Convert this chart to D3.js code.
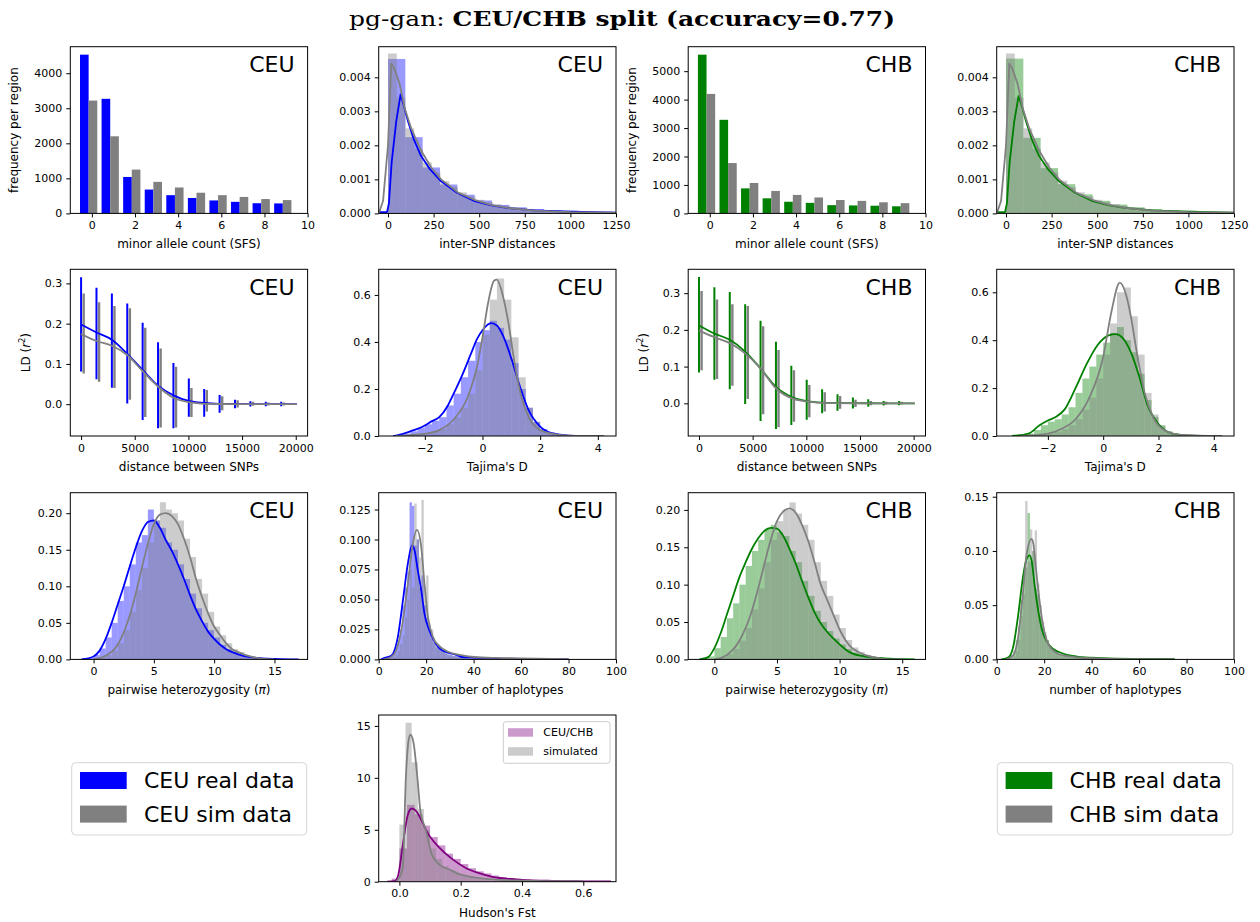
<!DOCTYPE html>
<html lang="en">
<head>
<meta charset="UTF-8">
<title>pg-gan CEU/CHB split</title>
<script src="https://d3js.org/d3.v7.min.js"></script>
<style>
  body { margin: 0; background: #fff; }
  text { font-family: "DejaVu Sans", sans-serif; fill: #000; }
</style>
</head>
<body>
<svg id="fig" width="1260" height="922"></svg>
<script>
// ---------- data ----------
const sfsBins = [0, 1, 2, 3, 4, 5, 6, 7, 8, 9];
const ceuSfsReal = [4530, 3270, 1040, 680, 520, 440, 370, 330, 290, 285];
const ceuSfsSim  = [3220, 2200, 1250, 900, 740, 590, 520, 470, 410, 380];
const chbSfsReal = [5580, 3290, 880, 530, 410, 370, 290, 280, 270, 250];
const chbSfsSim  = [4200, 1770, 1070, 790, 650, 560, 470, 440, 390, 360];

// inter-SNP distances: histograms {start, width, values} and KDE points [x, density]
const ceuDistHistReal = {start: 0, width: 95, values: [0.00454, 0.00224, 0.00135, 0.00085, 0.00055, 0.00038, 0.00025, 0.00018, 0.00013, 0.0001, 0.00008, 0.00006, 0.00005, 0.00003]};
const ceuDistHistSim  = {start: 0, width: 48, values: [0.0047, 0.0034, 0.0025, 0.0019, 0.0015, 0.0012, 0.00095, 0.00078, 0.00062, 0.0005, 0.0004, 0.00033, 0.00027, 0.00022, 0.00018, 0.00015, 0.00012, 0.0001, 0.00008, 0.00007, 0.00006, 0.00005, 0.00004, 0.00003, 0.00003, 0.00002, 0.00002]};
const chbDistHistReal = {start: 0, width: 95, values: [0.00455, 0.00222, 0.00133, 0.00086, 0.00056, 0.00037, 0.00026, 0.00018, 0.00013, 0.0001, 0.00008, 0.00006, 0.00005, 0.00003]};
const chbDistHistSim  = {start: 0, width: 48, values: [0.0047, 0.0034, 0.0025, 0.0019, 0.0015, 0.0012, 0.00096, 0.00077, 0.00062, 0.0005, 0.0004, 0.00033, 0.00027, 0.00022, 0.00018, 0.00015, 0.00012, 0.0001, 0.00008, 0.00007, 0.00006, 0.00005, 0.00004, 0.00003, 0.00003, 0.00002, 0.00002]};
const ceuDistKdeReal = [[-50, 0.00004], [-5, 0.00004], [5, 0.0003], [20, 0.0015], [45, 0.0027], [69, 0.0035], [90, 0.0031], [110, 0.0027], [140, 0.0022], [180, 0.0017], [230, 0.0013], [290, 0.00095], [380, 0.0006], [470, 0.00037], [560, 0.00024], [650, 0.00016], [800, 0.00009], [1000, 0.00005], [1250, 0.00002]];
const ceuDistKdeSim  = [[-50, 0.00002], [-45, 0.00008], [-27, 0.00037], [0, 0.002], [18, 0.0044], [30, 0.0043], [40, 0.00418], [64, 0.0038], [91, 0.0031], [127, 0.0025], [182, 0.00184], [237, 0.00135], [291, 0.001], [382, 0.00062], [473, 0.0004], [564, 0.00025], [655, 0.00016], [800, 0.00008], [1000, 0.00004], [1250, 0.00002]];
const chbDistKdeReal = [[-50, 0.00004], [-5, 0.00004], [5, 0.0003], [20, 0.0015], [45, 0.0027], [69, 0.00345], [90, 0.0031], [110, 0.0027], [140, 0.0022], [180, 0.0017], [230, 0.0013], [290, 0.00095], [380, 0.0006], [470, 0.00037], [560, 0.00024], [650, 0.00016], [800, 0.00009], [1000, 0.00005], [1250, 0.00002]];
const chbDistKdeSim  = [[-50, 0.00002], [-45, 0.00008], [-27, 0.00037], [0, 0.002], [18, 0.0044], [30, 0.0043], [40, 0.00418], [64, 0.0038], [91, 0.0031], [127, 0.0025], [182, 0.00184], [237, 0.00135], [291, 0.001], [382, 0.00062], [473, 0.0004], [564, 0.00025], [655, 0.00016], [800, 0.00008], [1000, 0.00004], [1250, 0.00002]];

// LD decay: bin distances, mean line and error bar ends
const ldX = [0, 1434, 2868, 4302, 5736, 7170, 8604, 10038, 11472, 12906, 14340, 15774, 17208, 18642];
const ldLineX = [0, 1434, 2868, 4302, 5736, 7170, 8604, 10038, 11472, 12906, 14340, 15774, 17208, 18642, 20100];
const ceuLdMeanReal = [0.198, 0.178, 0.16, 0.125, 0.085, 0.046, 0.022, 0.008, 0.003, 0.001, 0.0005, 0.0002, 0.0001, 0, 0];
const ceuLdMeanSim  = [0.174, 0.157, 0.145, 0.122, 0.082, 0.044, 0.016, 0.005, 0.001, 0.0005, 0.0002, 0.0001, 0, 0, 0];
const ceuLdHiReal = [0.315, 0.289, 0.275, 0.25, 0.202, 0.154, 0.102, 0.064, 0.038, 0.023, 0.011, 0.007, 0.006, 0.006];
const ceuLdLoReal = [0.081, 0.062, 0.041, 0.002, -0.039, -0.06, -0.06, -0.031, -0.031, -0.021, -0.01, -0.006, -0.005, -0.005];
const ceuLdHiSim  = [0.275, 0.253, 0.244, 0.238, 0.19, 0.138, 0.093, 0.04, 0.035, 0.02, 0.01, 0.006, 0.004, 0.004];
const ceuLdLoSim  = [0.076, 0.056, 0.04, 0.011, -0.032, -0.058, -0.058, -0.032, -0.018, -0.015, -0.008, -0.004, -0.003, -0.003];
const chbLdMeanReal = [0.212, 0.19, 0.173, 0.141, 0.095, 0.045, 0.018, 0.006, 0.002, 0.001, 0.0005, 0.0002, 0.0001, 0, 0];
const chbLdMeanSim  = [0.198, 0.18, 0.164, 0.136, 0.095, 0.041, 0.014, 0.005, 0.001, 0.0005, 0.0002, 0.0001, 0, 0, 0];
const chbLdHiReal = [0.344, 0.316, 0.303, 0.27, 0.225, 0.168, 0.102, 0.064, 0.038, 0.025, 0.016, 0.011, 0.006, 0.006];
const chbLdLoReal = [0.084, 0.064, 0.038, -0.002, -0.048, -0.07, -0.059, -0.045, -0.027, -0.02, -0.014, -0.009, -0.006, -0.005];
const chbLdHiSim  = [0.306, 0.283, 0.27, 0.265, 0.21, 0.145, 0.09, 0.05, 0.03, 0.02, 0.01, 0.006, 0.004, 0.004];
const chbLdLoSim  = [0.09, 0.066, 0.048, 0.012, -0.03, -0.065, -0.05, -0.038, -0.022, -0.015, -0.01, -0.005, -0.003, -0.003];

// Tajima's D
const ceuTajHistReal = {start: -3.0, width: 0.25, values: [0.004, 0.01, 0.02, 0.035, 0.05, 0.065, 0.08, 0.13, 0.18, 0.25, 0.32, 0.40, 0.45, 0.49, 0.46, 0.41, 0.31, 0.2, 0.12, 0.06, 0.03, 0.015, 0.007, 0.004, 0.002, 0.001, 0.001, 0.0005, 0.0005]};
const ceuTajHistSim  = {start: -2.5, width: 0.25, values: [0.003, 0.008, 0.012, 0.02, 0.03, 0.05, 0.08, 0.12, 0.18, 0.28, 0.43, 0.58, 0.67, 0.58, 0.42, 0.25, 0.12, 0.06, 0.025, 0.012, 0.006, 0.003, 0.001]};
const chbTajHistReal = {start: -3.25, width: 0.25, values: [0.002, 0.005, 0.01, 0.025, 0.045, 0.06, 0.07, 0.09, 0.12, 0.18, 0.24, 0.29, 0.34, 0.39, 0.43, 0.455, 0.4, 0.35, 0.26, 0.15, 0.08, 0.045, 0.02, 0.01, 0.005, 0.003, 0.002, 0.001, 0.001, 0.0005]};
const chbTajHistSim  = {start: -2.5, width: 0.25, values: [0.003, 0.006, 0.01, 0.018, 0.028, 0.045, 0.07, 0.11, 0.16, 0.24, 0.34, 0.47, 0.6, 0.62, 0.5, 0.34, 0.18, 0.09, 0.04, 0.018, 0.008, 0.004, 0.002]};
const ceuTajKdeReal = [[-3.1, 0], [-3.0, 0.002], [-2.5, 0.02], [-2.0, 0.045], [-1.8, 0.06], [-1.5, 0.08], [-1.2, 0.13], [-1.0, 0.18], [-0.7, 0.26], [-0.4, 0.35], [-0.2, 0.41], [0, 0.45], [0.3, 0.48], [0.5, 0.47], [0.7, 0.43], [1.0, 0.33], [1.3, 0.21], [1.6, 0.11], [2.0, 0.04], [2.4, 0.012], [3.0, 0.002], [4.2, 0]];
const ceuTajKdeSim  = [[-3.0, 0], [-2.0, 0.01], [-1.5, 0.025], [-1.0, 0.07], [-0.5, 0.17], [-0.2, 0.29], [0, 0.42], [0.2, 0.57], [0.4, 0.66], [0.5, 0.665], [0.7, 0.6], [0.9, 0.48], [1.1, 0.32], [1.3, 0.19], [1.6, 0.08], [2.0, 0.025], [2.5, 0.008], [3.0, 0.002], [4.2, 0]];
const chbTajKdeReal = [[-3.3, 0], [-2.7, 0.01], [-2.3, 0.045], [-2.0, 0.065], [-1.7, 0.08], [-1.4, 0.11], [-1.0, 0.2], [-0.6, 0.3], [-0.2, 0.38], [0.2, 0.42], [0.45, 0.425], [0.7, 0.41], [1.0, 0.35], [1.3, 0.25], [1.6, 0.13], [2.0, 0.05], [2.5, 0.01], [3.0, 0.003], [4.3, 0]];
const chbTajKdeSim  = [[-3.0, 0], [-2.0, 0.01], [-1.5, 0.03], [-1.0, 0.07], [-0.5, 0.16], [0, 0.33], [0.3, 0.52], [0.6, 0.64], [0.8, 0.6], [1.0, 0.5], [1.2, 0.36], [1.5, 0.18], [1.8, 0.08], [2.2, 0.025], [2.8, 0.005], [4.3, 0]];

// pairwise heterozygosity (pi)
const ceuPiHistReal = {start: -1.0, width: 0.5, values: [0.001, 0.002, 0.006, 0.015, 0.03, 0.05, 0.08, 0.1, 0.13, 0.16, 0.17, 0.205, 0.19, 0.18, 0.16, 0.15, 0.13, 0.11, 0.09, 0.07, 0.05, 0.04, 0.03, 0.02, 0.014, 0.01, 0.007, 0.005, 0.003, 0.002, 0.001, 0.001, 0.001, 0.0005, 0.0005, 0.0005]};
const ceuPiHistSim  = {start: 0, width: 0.5, values: [0.001, 0.003, 0.006, 0.012, 0.022, 0.04, 0.065, 0.095, 0.125, 0.16, 0.19, 0.215, 0.205, 0.2, 0.19, 0.165, 0.14, 0.11, 0.09, 0.065, 0.045, 0.033, 0.022, 0.014, 0.01, 0.006, 0.004, 0.002, 0.001]};
const chbPiHistReal = {start: -1.0, width: 0.5, values: [0.002, 0.004, 0.015, 0.03, 0.055, 0.075, 0.1, 0.125, 0.145, 0.16, 0.175, 0.18, 0.17, 0.165, 0.145, 0.13, 0.105, 0.085, 0.065, 0.05, 0.038, 0.028, 0.02, 0.014, 0.009, 0.006, 0.004, 0.003, 0.002, 0.002, 0.001, 0.001, 0.0005, 0.0005]};
const chbPiHistSim  = {start: 0, width: 0.5, values: [0.001, 0.003, 0.007, 0.014, 0.025, 0.042, 0.067, 0.095, 0.13, 0.16, 0.185, 0.2, 0.21, 0.195, 0.18, 0.16, 0.13, 0.105, 0.085, 0.06, 0.042, 0.026, 0.016, 0.01, 0.006, 0.004, 0.002, 0.001]};
const ceuPiKdeReal = [[-1, 0], [0, 0.004], [0.5, 0.012], [1, 0.028], [1.5, 0.05], [2, 0.075], [2.5, 0.1], [3, 0.127], [3.5, 0.153], [4, 0.175], [4.5, 0.188], [5, 0.19], [5.5, 0.18], [6, 0.163], [6.5, 0.148], [7, 0.13], [7.5, 0.11], [8, 0.088], [8.5, 0.068], [9, 0.052], [9.5, 0.038], [10, 0.028], [10.5, 0.02], [11, 0.014], [11.5, 0.01], [12, 0.007], [13, 0.003], [14, 0.0015], [15, 0.0007], [17, 0]];
const ceuPiKdeSim  = [[0, 0], [1, 0.005], [2, 0.02], [3, 0.06], [3.5, 0.09], [4, 0.125], [4.5, 0.158], [5, 0.185], [5.5, 0.198], [6, 0.2], [6.5, 0.196], [7, 0.185], [7.5, 0.165], [8, 0.14], [8.5, 0.11], [9, 0.085], [9.5, 0.063], [10, 0.045], [10.5, 0.033], [11, 0.022], [11.5, 0.014], [12, 0.01], [13, 0.004], [14, 0.001], [15, 0]];
const chbPiKdeReal = [[-1.2, 0], [-0.5, 0.003], [0, 0.015], [0.5, 0.035], [1, 0.06], [1.5, 0.085], [2, 0.11], [2.5, 0.13], [3, 0.148], [3.5, 0.162], [4, 0.172], [4.5, 0.176], [5, 0.175], [5.5, 0.165], [6, 0.148], [6.5, 0.128], [7, 0.105], [7.5, 0.083], [8, 0.063], [8.5, 0.048], [9, 0.037], [9.5, 0.028], [10, 0.02], [10.5, 0.013], [11, 0.008], [12, 0.004], [13, 0.002], [14, 0.001], [16, 0]];
const chbPiKdeSim  = [[0, 0], [1, 0.006], [2, 0.025], [3, 0.065], [3.5, 0.095], [4, 0.128], [4.5, 0.16], [5, 0.185], [5.5, 0.198], [6, 0.202], [6.5, 0.196], [7, 0.18], [7.5, 0.158], [8, 0.13], [8.5, 0.1], [9, 0.08], [9.5, 0.06], [10, 0.04], [10.5, 0.025], [11, 0.015], [11.5, 0.01], [12, 0.006], [13, 0.002], [14, 0], [15, 0]];

// number of haplotypes (integer bins, then wider tail bins)
const ceuHapHistReal = [{start: 3, width: 1, values: [0.001, 0.002, 0.003, 0.006, 0.01, 0.015, 0.025, 0.045, 0.06, 0.073, 0.131, 0.128, 0.095, 0.1, 0.06, 0.07, 0.045, 0.035, 0.025, 0.018, 0.014, 0.01, 0.009, 0.007, 0.006, 0.005, 0.004, 0.004, 0.003, 0.004, 0.003, 0.002, 0.002, 0.002, 0.0015, 0.0015, 0.001]},
                        {start: 40, width: 5, values: [0.0012, 0.0008, 0.0005, 0.0004, 0.0003, 0.0002, 0.0002, 0.0001]}];
const ceuHapHistSim  = [{start: 5, width: 1, values: [0.001, 0.002, 0.004, 0.007, 0.013, 0.02, 0.035, 0.05, 0.075, 0.06, 0.13, 0.1, 0.085, 0.133, 0.06, 0.07, 0.03, 0.025, 0.015, 0.012, 0.01, 0.008, 0.006, 0.005, 0.004, 0.003, 0.003, 0.002, 0.002, 0.002, 0.0015, 0.001]},
                        {start: 37, width: 5, values: [0.0008, 0.0005, 0.0003, 0.0002, 0.0001]}];
const chbHapHistReal = [{start: 4, width: 1, values: [0.001, 0.002, 0.004, 0.008, 0.018, 0.03, 0.055, 0.075, 0.085, 0.135, 0.09, 0.1, 0.065, 0.06, 0.04, 0.03, 0.022, 0.018, 0.013, 0.01, 0.008, 0.007, 0.005, 0.004, 0.004, 0.003, 0.003, 0.003, 0.003, 0.002, 0.002, 0.002]},
                        {start: 36, width: 5, values: [0.001, 0.0008, 0.0005, 0.0004, 0.0003, 0.0002, 0.0002, 0.0001]}];
const chbHapHistSim  = [{start: 6, width: 1, values: [0.001, 0.003, 0.008, 0.018, 0.04, 0.06, 0.146, 0.09, 0.12, 0.1, 0.119, 0.07, 0.05, 0.035, 0.025, 0.018, 0.012, 0.009, 0.007, 0.005, 0.004, 0.003, 0.003, 0.002, 0.002]},
                        {start: 31, width: 5, values: [0.0012, 0.0008, 0.0005, 0.0003, 0.0002]}];
const ceuHapKdeReal = [[1, 0], [1.8, 0.0008], [5.3, 0.003], [8.1, 0.019], [10.2, 0.049], [12.3, 0.08], [14, 0.095], [15.1, 0.091], [16.5, 0.074], [17.9, 0.058], [19.3, 0.038], [21.4, 0.024], [23.5, 0.015], [26.3, 0.008], [30.5, 0.005], [32.6, 0.004], [35, 0.002], [40, 0.0015], [49, 0.0008], [60, 0.0005], [80, 0.0002]];
const ceuHapKdeSim  = [[2, 0], [3.9, 0.0008], [6.7, 0.005], [9.5, 0.024], [12.3, 0.063], [14.4, 0.097], [16.1, 0.108], [17.9, 0.094], [19.3, 0.063], [20.7, 0.036], [22.8, 0.019], [25.6, 0.011], [29.2, 0.0064], [34.8, 0.0036], [40.4, 0.002], [50, 0.0012], [60, 0.0008], [80, 0.0002]];
const chbHapKdeReal = [[2, 0], [5, 0.002], [7, 0.012], [9, 0.04], [11, 0.075], [12.5, 0.092], [13.9, 0.096], [14.8, 0.09], [16, 0.068], [17.5, 0.045], [19, 0.028], [21, 0.017], [23, 0.011], [26, 0.007], [30, 0.004], [33, 0.003], [36, 0.002], [40, 0.0015], [50, 0.0008], [60, 0.0005], [75, 0.0002]];
const chbHapKdeSim  = [[4, 0], [7, 0.004], [9, 0.02], [11, 0.06], [12.5, 0.095], [14.7, 0.111], [15.5, 0.106], [16.5, 0.085], [18, 0.055], [19.5, 0.032], [21, 0.018], [23, 0.01], [26, 0.005], [30, 0.003], [35, 0.0015], [45, 0.0008], [60, 0.0003], [75, 0.0001]];

// Hudson's Fst
const fstHistReal = {start: -0.025, width: 0.025, values: [0.3, 3.2, 7.4, 6.5, 5.4, 4.3, 3.5, 2.7, 2.2, 1.7, 1.3, 1.0, 0.8, 0.6, 0.45, 0.35, 0.28, 0.2, 0.15, 0.12, 0.1, 0.08, 0.06, 0.05, 0.04, 0.03, 0.02, 0.02, 0.01]};
const fstHistSim  = {start: 0, width: 0.02, values: [5.5, 15.3, 11.5, 7.0, 5.0, 3.2, 2.2, 1.5, 1.1, 0.8, 0.6, 0.45, 0.3, 0.2, 0.15, 0.1, 0.07, 0.05]};
const fstKdeReal = [[-0.04, 0], [-0.016, 0.05], [-0.005, 0.5], [0.011, 3.5], [0.027, 6.4], [0.04, 7.05], [0.055, 6.8], [0.069, 6.1], [0.09, 4.8], [0.133, 3.2], [0.176, 2.1], [0.218, 1.3], [0.26, 0.83], [0.3, 0.5], [0.35, 0.3], [0.4, 0.18], [0.5, 0.08], [0.6, 0.04], [0.69, 0.02]];
const fstKdeSim  = [[-0.01, 0], [0.011, 1.3], [0.021, 9.9], [0.03, 13.6], [0.036, 14.15], [0.046, 13.4], [0.059, 9.9], [0.069, 6.7], [0.085, 5.1], [0.106, 2.6], [0.133, 1.6], [0.165, 1.15], [0.197, 0.7], [0.239, 0.45], [0.29, 0.25], [0.4, 0.1], [0.5, 0.05], [0.6, 0.02]];

// ---------- layout ----------
const svg = d3.select("#fig");
const colX = [70.3, 378.7, 688.2, 996.7];
const rowY = [46.7, 269.3, 492.7, 715];
const pw = 237.3, ph = 166.7;
const BLUE = "#0000ff", GREEN = "#008000", GRAY = "#808080", PURPLE = "#800080";
let clipCount = 0;

function makePanel(col, row, xDom, yDom) {
  const g = svg.append("g").attr("transform", `translate(${colX[col]},${rowY[row]})`);
  const x = d3.scaleLinear().domain(xDom).range([0, pw]);
  const y = d3.scaleLinear().domain(yDom).range([ph, 0]);
  const id = "clip" + (clipCount++);
  g.append("clipPath").attr("id", id).append("rect").attr("width", pw).attr("height", ph);
  const plot = g.append("g").attr("clip-path", `url(#${id})`);
  return {g, plot, x, y};
}

function drawAxes(p, o) {
  const xa = d3.axisBottom(p.x).tickValues(o.xt).tickFormat(d3.format(o.xf)).tickSize(4).tickPadding(4);
  const ya = d3.axisLeft(p.y).tickValues(o.yt).tickFormat(d3.format(o.yf)).tickSize(4).tickPadding(4);
  [p.g.append("g").attr("transform", `translate(0,${ph})`).call(xa),
   p.g.append("g").call(ya)].forEach(a => {
    a.attr("font-size", 11).attr("font-family", "DejaVu Sans");
    a.select(".domain").remove();
    a.selectAll("line").attr("stroke", "#000");
    a.selectAll("text").attr("fill", "#000");
  });
  p.g.append("rect").attr("width", pw).attr("height", ph)
    .attr("fill", "none").attr("stroke", "#000").attr("stroke-width", 1);
  const xl = p.g.append("text").attr("x", pw / 2).attr("y", ph + 35)
    .attr("text-anchor", "middle").attr("font-size", 12);
  o.xl(xl);
  if (o.yl) {
    const yl = p.g.append("text")
      .attr("transform", `translate(${-o.ylOff},${ph / 2}) rotate(-90)`)
      .attr("text-anchor", "middle").attr("font-size", 12);
    o.yl(yl);
  }
  if (o.pop) {
    p.g.append("text").attr("x", pw - 13).attr("y", 25.5).attr("text-anchor", "end")
      .attr("font-size", 22).text(o.pop);
  }
}

function plain(s) { return t => t.text(s); }

function drawHist(p, hists, color) {
  [].concat(hists).forEach(h => {
    p.plot.append("g").selectAll("rect").data(h.values).join("rect")
      .attr("x", (d, i) => p.x(h.start + i * h.width))
      .attr("width", (d, i) => p.x(h.start + (i + 1) * h.width) - p.x(h.start + i * h.width))
      .attr("y", d => p.y(d))
      .attr("height", d => p.y(0) - p.y(d))
      .attr("fill", color).attr("fill-opacity", 0.4);
  });
}

function drawLine(p, pts, color, curve) {
  p.plot.append("path").datum(pts)
    .attr("d", d3.line().x(d => p.x(d[0])).y(d => p.y(d[1])).curve(curve || d3.curveMonotoneX))
    .attr("fill", "none").attr("stroke", color).attr("stroke-width", 1.8)
    .attr("stroke-linejoin", "round");
}

// ---------- title ----------
const title = svg.append("text").attr("x", 622).attr("y", 26).attr("text-anchor", "middle")
  .attr("font-size", 21).style("font-family", "'DejaVu Serif', 'Liberation Serif', serif")
  .attr("textLength", 546).attr("lengthAdjust", "spacingAndGlyphs");
title.append("tspan").text("pg-gan: ");
title.append("tspan").attr("font-weight", "bold").text("CEU/CHB split (accuracy=0.77)");

// ---------- SFS panels ----------
function sfsPanel(col, real, sim, color, yDom, yTicks, pop) {
  const p = makePanel(col, 0, [-1, 10], yDom);
  const bw = 0.4;
  p.plot.append("g").selectAll("rect").data(sfsBins).join("rect")
    .attr("x", d => p.x(d - 0.55)).attr("width", p.x(bw) - p.x(0))
    .attr("y", (d, i) => p.y(real[i])).attr("height", (d, i) => p.y(0) - p.y(real[i]))
    .attr("fill", color);
  p.plot.append("g").selectAll("rect").data(sfsBins).join("rect")
    .attr("x", d => p.x(d - 0.15)).attr("width", p.x(bw) - p.x(0))
    .attr("y", (d, i) => p.y(sim[i])).attr("height", (d, i) => p.y(0) - p.y(sim[i]))
    .attr("fill", GRAY);
  drawAxes(p, {xt: [0, 2, 4, 6, 8, 10], xf: "d", yt: yTicks, yf: "d",
    xl: plain("minor allele count (SFS)"), yl: plain("frequency per region"), ylOff: 52, pop});
}
sfsPanel(0, ceuSfsReal, ceuSfsSim, BLUE, [0, 4757], [0, 1000, 2000, 3000, 4000], "CEU");
sfsPanel(2, chbSfsReal, chbSfsSim, GREEN, [0, 5860], [0, 1000, 2000, 3000, 4000, 5000], "CHB");

// ---------- generic distribution panel ----------
function distPanel(col, row, xDom, yDom, hr, hs, kr, ks, color, axes, curve) {
  const p = makePanel(col, row, xDom, yDom);
  drawHist(p, hr, color);
  drawHist(p, hs, GRAY);
  drawLine(p, kr, color, curve);
  drawLine(p, ks, GRAY, curve);
  drawAxes(p, axes);
  return p;
}

const distAxes = pop => ({xt: [0, 250, 500, 750, 1000, 1250], xf: "d", yt: [0, 0.001, 0.002, 0.003, 0.004], yf: ".3f",
  xl: plain("inter-SNP distances"), pop});
distPanel(1, 0, [-51, 1250], [0, 0.0049], ceuDistHistReal, ceuDistHistSim, ceuDistKdeReal, ceuDistKdeSim, BLUE, distAxes("CEU"), d3.curveLinear);
distPanel(3, 0, [-51, 1250], [0, 0.0049], chbDistHistReal, chbDistHistSim, chbDistKdeReal, chbDistKdeSim, GREEN, distAxes("CHB"), d3.curveLinear);

// ---------- LD panels ----------
function ldPanel(col, yDom, meanR, meanS, hiR, loR, hiS, loS, color, pop) {
  const p = makePanel(col, 1, [-1005, 21105], yDom);
  p.plot.append("g").selectAll("line").data(ldX).join("line")
    .attr("x1", d => p.x(d)).attr("x2", d => p.x(d))
    .attr("y1", (d, i) => p.y(hiR[i])).attr("y2", (d, i) => p.y(loR[i]))
    .attr("stroke", color).attr("stroke-width", 2);
  p.plot.append("g").selectAll("line").data(ldX).join("line")
    .attr("x1", d => p.x(d) + 2.6).attr("x2", d => p.x(d) + 2.6)
    .attr("y1", (d, i) => p.y(hiS[i])).attr("y2", (d, i) => p.y(loS[i]))
    .attr("stroke", GRAY).attr("stroke-width", 2.4);
  drawLine(p, ldLineX.map((d, i) => [d, meanR[i]]), color);
  drawLine(p, ldLineX.map((d, i) => [d, meanS[i]]), GRAY);
  drawAxes(p, {xt: [0, 5000, 10000, 15000, 20000], xf: "d", yt: [0, 0.1, 0.2, 0.3], yf: ".1f",
    xl: plain("distance between SNPs"),
    yl: t => { t.append("tspan").text("LD ("); t.append("tspan").attr("font-style", "italic").text("r");
               t.append("tspan").attr("dy", -5).attr("font-size", 8).text("2");
               t.append("tspan").attr("dy", 5).text(")"); },
    ylOff: 40, pop});
}
ldPanel(0, [-0.079, 0.335], ceuLdMeanReal, ceuLdMeanSim, ceuLdHiReal, ceuLdLoReal, ceuLdHiSim, ceuLdLoSim, BLUE, "CEU");
ldPanel(2, [-0.089, 0.365], chbLdMeanReal, chbLdMeanSim, chbLdHiReal, chbLdLoReal, chbLdHiSim, chbLdLoSim, GREEN, "CHB");

// ---------- Tajima's D ----------
const tajAxes = (yt, pop) => ({xt: [-2, 0, 2, 4], xf: "d", yt, yf: ".1f", xl: plain("Tajima's D"), pop});
distPanel(1, 1, [-3.6, 4.63], [0, 0.709], ceuTajHistReal, ceuTajHistSim, ceuTajKdeReal, ceuTajKdeSim, BLUE, tajAxes([0, 0.2, 0.4, 0.6], "CEU"));
distPanel(3, 1, [-3.85, 4.73], [0, 0.696], chbTajHistReal, chbTajHistSim, chbTajKdeReal, chbTajKdeSim, GREEN, tajAxes([0, 0.2, 0.4, 0.6], "CHB"));

// ---------- pi ----------
const piLabel = t => { t.append("tspan").text("pairwise heterozygosity (");
  t.append("tspan").attr("font-style", "italic").text("π"); t.append("tspan").text(")"); };
const piAxes = pop => ({xt: [0, 5, 10, 15], xf: "d", yt: [0, 0.05, 0.1, 0.15, 0.2], yf: ".2f", xl: piLabel, pop});
distPanel(0, 2, [-1.93, 17.75], [0, 0.228], ceuPiHistReal, ceuPiHistSim, ceuPiKdeReal, ceuPiKdeSim, BLUE, piAxes("CEU"));
distPanel(2, 2, [-2.09, 16.86], [0, 0.223], chbPiHistReal, chbPiHistSim, chbPiKdeReal, chbPiKdeSim, GREEN, piAxes("CHB"));

// ---------- haplotypes ----------
distPanel(1, 2, [0, 100], [0, 0.139], ceuHapHistReal, ceuHapHistSim, ceuHapKdeReal, ceuHapKdeSim, BLUE,
  {xt: [0, 20, 40, 60, 80, 100], xf: "d", yt: [0, 0.025, 0.05, 0.075, 0.1, 0.125], yf: ".3f", xl: plain("number of haplotypes"), pop: "CEU"});
distPanel(3, 2, [0, 100], [0, 0.1537], chbHapHistReal, chbHapHistSim, chbHapKdeReal, chbHapKdeSim, GREEN,
  {xt: [0, 20, 40, 60, 80, 100], xf: "d", yt: [0, 0.05, 0.1, 0.15], yf: ".2f", xl: plain("number of haplotypes"), pop: "CHB"});

// ---------- Fst ----------
const fst = distPanel(1, 3, [-0.0675, 0.7067], [0, 16.05], fstHistReal, fstHistSim, fstKdeReal, fstKdeSim, PURPLE,
  {xt: [0, 0.2, 0.4, 0.6], xf: ".1f", yt: [0, 5, 10, 15], yf: "d", xl: plain("Hudson's Fst")});
const fl = fst.g.append("g").attr("transform", `translate(${503.3 - colX[1]},${721.7 - rowY[3]})`);
fl.append("rect").attr("width", 106.7).attr("height", 41.6).attr("rx", 2.5)
  .attr("fill", "#fff").attr("fill-opacity", 0.8).attr("stroke", "#cccccc");
[["CEU/CHB", PURPLE], ["simulated", GRAY]].forEach(([lab, c], i) => {
  fl.append("rect").attr("x", 4.7).attr("y", 6.5 + i * 19).attr("width", 25).attr("height", 8.5)
    .attr("fill", c).attr("fill-opacity", 0.4);
  fl.append("text").attr("x", 40).attr("y", 14.8 + i * 19).attr("font-size", 11).text(lab);
});

// ---------- big legends ----------
function bigLegend(x0, y0, w, color, pop) {
  const g = svg.append("g").attr("transform", `translate(${x0},${y0})`);
  g.append("rect").attr("width", w).attr("height", 72.3).attr("rx", 4)
    .attr("fill", "#fff").attr("stroke", "#d6d6d6");
  [[`${pop} real data`, color], [`${pop} sim data`, GRAY]].forEach(([lab, c], i) => {
    g.append("rect").attr("x", 8.3).attr("y", 9.3 + i * 33.6).attr("width", 46.7).attr("height", 17).attr("fill", c);
    g.append("text").attr("x", 72.3).attr("y", 25.6 + i * 33.6).attr("font-size", 22).text(lab);
  });
}
bigLegend(71.7, 762.7, 235, BLUE, "CEU");
bigLegend(997.3, 762.7, 235.5, GREEN, "CHB");
</script>
</body>
</html>
